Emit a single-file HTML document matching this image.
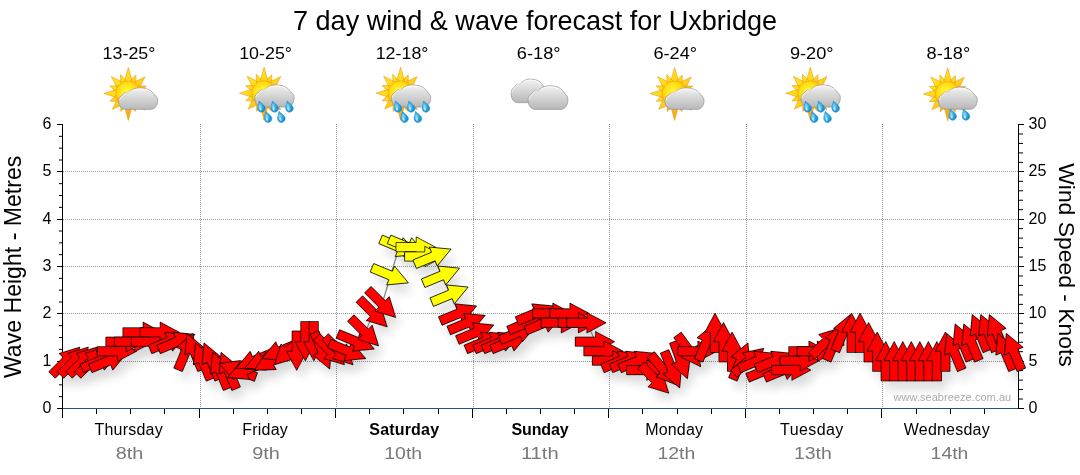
<!DOCTYPE html>
<html><head><meta charset="utf-8"><title>7 day wind &amp; wave forecast for Uxbridge</title>
<style>
html,body{margin:0;padding:0;background:#fff;}
body{width:1080px;height:475px;overflow:hidden;position:relative;font-family:"Liberation Sans",sans-serif;}
svg{position:absolute;left:0;top:0;display:block;}
text{font-family:"Liberation Sans",sans-serif;}
</style></head><body>
<svg width="1080" height="475" viewBox="0 0 1080 475">
<defs>
<path id="ar" d="M-20.2 -4.6 L0 -4.6 L0 -10.2 L19.2 0 L0 10.2 L0 4.6 L-20.2 4.6Z"/>
<linearGradient id="gc" x1="0" y1="0" x2="0" y2="1"><stop offset="0" stop-color="#f4f4f4"/><stop offset="0.3" stop-color="#e0e0e0"/><stop offset="1" stop-color="#b8b8b8"/></linearGradient>
<radialGradient id="gs" cx="0.42" cy="0.4" r="0.62"><stop offset="0" stop-color="#fff540"/><stop offset="0.55" stop-color="#ffde0c"/><stop offset="1" stop-color="#f8ac0a"/></radialGradient>
<linearGradient id="gr" gradientUnits="userSpaceOnUse" x1="-18" y1="-18" x2="18" y2="20"><stop offset="0" stop-color="#ffe61e"/><stop offset="0.45" stop-color="#ffd21a"/><stop offset="1" stop-color="#f4920e"/></linearGradient>
<radialGradient id="gd" cx="0.4" cy="0.45" r="0.6"><stop offset="0" stop-color="#8fdcf7"/><stop offset="0.6" stop-color="#2ba4e0"/><stop offset="1" stop-color="#1a86c8"/></radialGradient>
<g id="cloud"><path d="M7 22C3 22 0 18.5 0 13.5C0 10.5 1.6 8 4.2 7.2C5 5.2 7.6 4 10.2 4.9C12 2 16.5 0 21.5 0C27 0 32.5 1.4 35.6 5.6C36.4 6.2 36.8 6.8 37 7.6C39 8.6 40 10.6 40 12.8C40 18 37 22 33 22Z" fill="url(#gc)" stroke="#989898" stroke-width="0.8"/><path d="M0.9 13C1 10.8 2.4 8.6 4.6 7.7C5.6 5.6 7.8 4.3 10.7 4.7C13.2 2.3 17 0.9 21.5 0.9C26.3 0.9 31 1.9 34.4 5.2" fill="none" stroke="#fff" stroke-opacity="0.8" stroke-width="0.9"/></g>
<g id="sun"><path d="M-4.17 -11.46L0.00 -26.00L4.17 -11.46ZM1.38 -12.12L7.65 -18.48L7.59 -9.55ZM5.16 -11.06L16.62 -16.62L11.06 -5.16ZM9.55 -7.59L18.02 -7.46L12.12 -1.38ZM11.46 -4.17L24.00 0.00L11.46 4.17ZM12.12 1.38L18.48 7.65L9.55 7.59ZM11.06 5.16L16.62 16.62L5.16 11.06ZM7.59 9.55L7.46 18.02L1.38 12.12ZM4.17 11.46L0.00 27.00L-4.17 11.46ZM-1.38 12.12L-7.46 18.02L-7.59 9.55ZM-5.16 11.06L-15.91 15.91L-11.06 5.16ZM-9.55 7.59L-18.48 7.65L-12.12 1.38ZM-11.46 4.17L-24.50 0.00L-11.46 -4.17ZM-12.12 -1.38L-18.48 -7.65L-9.55 -7.59ZM-11.06 -5.16L-16.97 -16.97L-5.16 -11.06ZM-7.59 -9.55L-7.85 -18.94L-1.38 -12.12Z" fill="url(#gr)" stroke="#ee9a14" stroke-width="0.6" stroke-linejoin="round"/><circle r="12.4" fill="url(#gs)" stroke="#f2a814" stroke-width="0.6"/></g>
<g id="drop"><g transform="rotate(-18) scale(1.22)"><path d="M0 -4.8C1 -2.6 3.1 -0.6 3.1 1.6C3.1 3.5 1.6 4.6 0 4.6C-1.8 4.6 -3.1 3.3 -3.1 1.5C-3.1 -0.6 -1 -2.6 0 -4.8Z" fill="url(#gd)" stroke="#1c8fd0" stroke-width="0.4"/><ellipse cx="-1" cy="1.7" rx="0.9" ry="1.5" fill="#fff" fill-opacity="0.6"/></g></g>
<symbol id="ic_sc" width="64" height="64" viewBox="0 0 64 64" overflow="visible"><use href="#sun" x="30" y="31.5"/><use href="#cloud" transform="translate(20.4 26) scale(0.975 0.97)"/></symbol>
<symbol id="ic_sc5" width="64" height="64" viewBox="0 0 64 64" overflow="visible"><use href="#sun" x="29.2" y="31.2"/><use href="#cloud" transform="translate(20 23) scale(0.98 1)"/><use href="#drop" x="26" y="44.6"/><use href="#drop" x="39.2" y="44.6"/><use href="#drop" x="54" y="44.6"/><use href="#drop" x="32.6" y="54.9"/><use href="#drop" x="45.9" y="54.9"/></symbol>
<symbol id="ic_sc2" width="64" height="64" viewBox="0 0 64 64" overflow="visible"><use href="#sun" x="30" y="31.9"/><use href="#cloud" transform="translate(20.9 25.2) scale(0.965 1)"/><use href="#drop" x="34.4" y="52.6"/><use href="#drop" x="47.7" y="52.6"/></symbol>
<symbol id="ic_cc" width="64" height="64" viewBox="0 0 64 64" overflow="visible"><use href="#cloud" transform="translate(3.2 17.1) scale(0.885 1.07)"/><use href="#cloud" transform="translate(20.1 23.8) scale(0.995 1.07)"/></symbol>
<filter id="sh" x="-5%" y="-20%" width="110%" height="150%"><feGaussianBlur stdDeviation="5"/></filter>
<clipPath id="cp"><rect x="63" y="124" width="955" height="284"/></clipPath>
</defs>
<rect width="1080" height="475" fill="#fff"/>
<g stroke="#969696" stroke-width="1" stroke-dasharray="1 1" shape-rendering="crispEdges" fill="none">
<line x1="63" y1="361.5" x2="1018" y2="361.5"/>
<line x1="63" y1="313.5" x2="1018" y2="313.5"/>
<line x1="63" y1="266.5" x2="1018" y2="266.5"/>
<line x1="63" y1="219.5" x2="1018" y2="219.5"/>
<line x1="63" y1="171.5" x2="1018" y2="171.5"/>
<line x1="200.5" y1="124" x2="200.5" y2="408"/>
<line x1="336.5" y1="124" x2="336.5" y2="408"/>
<line x1="473.5" y1="124" x2="473.5" y2="408"/>
<line x1="609.5" y1="124" x2="609.5" y2="408"/>
<line x1="746.5" y1="124" x2="746.5" y2="408"/>
<line x1="882.5" y1="124" x2="882.5" y2="408"/>
</g>
<g shape-rendering="crispEdges" stroke="#000" stroke-width="1" fill="none">
<line x1="62.5" y1="124" x2="62.5" y2="418"/>
<line x1="1018.5" y1="124" x2="1018.5" y2="409"/>
<line x1="63" y1="408.5" x2="1018" y2="408.5" stroke="#1f5288"/>
<line x1="57" y1="408.5" x2="62" y2="408.5"/>
<line x1="57" y1="361.5" x2="62" y2="361.5"/>
<line x1="57" y1="313.5" x2="62" y2="313.5"/>
<line x1="57" y1="266.5" x2="62" y2="266.5"/>
<line x1="57" y1="219.5" x2="62" y2="219.5"/>
<line x1="57" y1="171.5" x2="62" y2="171.5"/>
<line x1="57" y1="124.5" x2="62" y2="124.5"/>
<line x1="1019" y1="408.5" x2="1024" y2="408.5"/>
<line x1="1019" y1="361.5" x2="1024" y2="361.5"/>
<line x1="1019" y1="313.5" x2="1024" y2="313.5"/>
<line x1="1019" y1="266.5" x2="1024" y2="266.5"/>
<line x1="1019" y1="219.5" x2="1024" y2="219.5"/>
<line x1="1019" y1="171.5" x2="1024" y2="171.5"/>
<line x1="1019" y1="124.5" x2="1024" y2="124.5"/>
<line x1="199.5" y1="409" x2="199.5" y2="418"/>
<line x1="335.5" y1="409" x2="335.5" y2="418"/>
<line x1="472.5" y1="409" x2="472.5" y2="418"/>
<line x1="608.5" y1="409" x2="608.5" y2="418"/>
<line x1="745.5" y1="409" x2="745.5" y2="418"/>
<line x1="881.5" y1="409" x2="881.5" y2="418"/>
</g>
<g stroke="#000" stroke-width="1" fill="none">
<line x1="59" y1="396.67" x2="62" y2="396.67"/>
<line x1="59" y1="384.83" x2="62" y2="384.83"/>
<line x1="59" y1="373.00" x2="62" y2="373.00"/>
<line x1="59" y1="349.33" x2="62" y2="349.33"/>
<line x1="59" y1="337.50" x2="62" y2="337.50"/>
<line x1="59" y1="325.67" x2="62" y2="325.67"/>
<line x1="59" y1="302.00" x2="62" y2="302.00"/>
<line x1="59" y1="290.17" x2="62" y2="290.17"/>
<line x1="59" y1="278.33" x2="62" y2="278.33"/>
<line x1="59" y1="254.67" x2="62" y2="254.67"/>
<line x1="59" y1="242.83" x2="62" y2="242.83"/>
<line x1="59" y1="231.00" x2="62" y2="231.00"/>
<line x1="59" y1="207.33" x2="62" y2="207.33"/>
<line x1="59" y1="195.50" x2="62" y2="195.50"/>
<line x1="59" y1="183.67" x2="62" y2="183.67"/>
<line x1="59" y1="160.00" x2="62" y2="160.00"/>
<line x1="59" y1="148.17" x2="62" y2="148.17"/>
<line x1="59" y1="136.33" x2="62" y2="136.33"/>
<line x1="1019" y1="399.03" x2="1023" y2="399.03"/>
<line x1="1019" y1="389.57" x2="1023" y2="389.57"/>
<line x1="1019" y1="380.10" x2="1023" y2="380.10"/>
<line x1="1019" y1="370.63" x2="1023" y2="370.63"/>
<line x1="1019" y1="351.70" x2="1023" y2="351.70"/>
<line x1="1019" y1="342.23" x2="1023" y2="342.23"/>
<line x1="1019" y1="332.77" x2="1023" y2="332.77"/>
<line x1="1019" y1="323.30" x2="1023" y2="323.30"/>
<line x1="1019" y1="304.37" x2="1023" y2="304.37"/>
<line x1="1019" y1="294.90" x2="1023" y2="294.90"/>
<line x1="1019" y1="285.43" x2="1023" y2="285.43"/>
<line x1="1019" y1="275.97" x2="1023" y2="275.97"/>
<line x1="1019" y1="257.03" x2="1023" y2="257.03"/>
<line x1="1019" y1="247.57" x2="1023" y2="247.57"/>
<line x1="1019" y1="238.10" x2="1023" y2="238.10"/>
<line x1="1019" y1="228.63" x2="1023" y2="228.63"/>
<line x1="1019" y1="209.70" x2="1023" y2="209.70"/>
<line x1="1019" y1="200.23" x2="1023" y2="200.23"/>
<line x1="1019" y1="190.77" x2="1023" y2="190.77"/>
<line x1="1019" y1="181.30" x2="1023" y2="181.30"/>
<line x1="1019" y1="162.37" x2="1023" y2="162.37"/>
<line x1="1019" y1="152.90" x2="1023" y2="152.90"/>
<line x1="1019" y1="143.43" x2="1023" y2="143.43"/>
<line x1="1019" y1="133.97" x2="1023" y2="133.97"/>
<line x1="96.50" y1="409" x2="96.50" y2="414" shape-rendering="crispEdges"/>
<line x1="130.50" y1="409" x2="130.50" y2="414" shape-rendering="crispEdges"/>
<line x1="164.50" y1="409" x2="164.50" y2="414" shape-rendering="crispEdges"/>
<line x1="233.50" y1="409" x2="233.50" y2="414" shape-rendering="crispEdges"/>
<line x1="267.50" y1="409" x2="267.50" y2="414" shape-rendering="crispEdges"/>
<line x1="301.50" y1="409" x2="301.50" y2="414" shape-rendering="crispEdges"/>
<line x1="369.50" y1="409" x2="369.50" y2="414" shape-rendering="crispEdges"/>
<line x1="403.50" y1="409" x2="403.50" y2="414" shape-rendering="crispEdges"/>
<line x1="438.50" y1="409" x2="438.50" y2="414" shape-rendering="crispEdges"/>
<line x1="506.50" y1="409" x2="506.50" y2="414" shape-rendering="crispEdges"/>
<line x1="540.50" y1="409" x2="540.50" y2="414" shape-rendering="crispEdges"/>
<line x1="574.50" y1="409" x2="574.50" y2="414" shape-rendering="crispEdges"/>
<line x1="642.50" y1="409" x2="642.50" y2="414" shape-rendering="crispEdges"/>
<line x1="677.50" y1="409" x2="677.50" y2="414" shape-rendering="crispEdges"/>
<line x1="711.50" y1="409" x2="711.50" y2="414" shape-rendering="crispEdges"/>
<line x1="779.50" y1="409" x2="779.50" y2="414" shape-rendering="crispEdges"/>
<line x1="813.50" y1="409" x2="813.50" y2="414" shape-rendering="crispEdges"/>
<line x1="847.50" y1="409" x2="847.50" y2="414" shape-rendering="crispEdges"/>
<line x1="916.50" y1="409" x2="916.50" y2="414" shape-rendering="crispEdges"/>
<line x1="950.50" y1="409" x2="950.50" y2="414" shape-rendering="crispEdges"/>
<line x1="984.50" y1="409" x2="984.50" y2="414" shape-rendering="crispEdges"/>
</g>
<g clip-path="url(#cp)"><g filter="url(#sh)" opacity="0.1" transform="translate(5,9)" fill="#000">
<use href="#ar" transform="translate(66.3 360.7) rotate(-45)"/>
<use href="#ar" transform="translate(74.8 360.7) rotate(-45)"/>
<use href="#ar" transform="translate(83.3 360.7) rotate(-45)"/>
<use href="#ar" transform="translate(91.9 360.7) rotate(-45)"/>
<use href="#ar" transform="translate(100.4 360.7) rotate(-22.5)"/>
<use href="#ar" transform="translate(108.9 360.7) rotate(-22.5)"/>
<use href="#ar" transform="translate(117.5 351.2) rotate(0)"/>
<use href="#ar" transform="translate(126.0 341.7) rotate(0)"/>
<use href="#ar" transform="translate(134.6 341.7) rotate(0)"/>
<use href="#ar" transform="translate(143.1 332.3) rotate(0)"/>
<use href="#ar" transform="translate(151.6 341.7) rotate(0)"/>
<use href="#ar" transform="translate(160.2 332.3) rotate(0)"/>
<use href="#ar" transform="translate(168.7 341.7) rotate(-22.5)"/>
<use href="#ar" transform="translate(177.2 341.7) rotate(-22.5)"/>
<use href="#ar" transform="translate(185.8 351.2) rotate(-67.5)"/>
<use href="#ar" transform="translate(194.3 351.2) rotate(-112.5)"/>
<use href="#ar" transform="translate(202.8 360.7) rotate(-112.5)"/>
<use href="#ar" transform="translate(211.4 360.7) rotate(-112.5)"/>
<use href="#ar" transform="translate(219.9 370.1) rotate(-112.5)"/>
<use href="#ar" transform="translate(228.4 370.1) rotate(-112.5)"/>
<use href="#ar" transform="translate(237.0 370.1) rotate(-160)"/>
<use href="#ar" transform="translate(245.5 370.1) rotate(-202.5)"/>
<use href="#ar" transform="translate(254.1 360.7) rotate(-202.5)"/>
<use href="#ar" transform="translate(262.6 360.7) rotate(-202.5)"/>
<use href="#ar" transform="translate(271.1 360.7) rotate(-210)"/>
<use href="#ar" transform="translate(279.7 351.2) rotate(-202.5)"/>
<use href="#ar" transform="translate(288.2 351.2) rotate(-225)"/>
<use href="#ar" transform="translate(296.7 351.2) rotate(90)"/>
<use href="#ar" transform="translate(305.3 341.7) rotate(90)"/>
<use href="#ar" transform="translate(313.8 341.7) rotate(90)"/>
<use href="#ar" transform="translate(322.3 351.2) rotate(67.5)"/>
<use href="#ar" transform="translate(330.9 351.2) rotate(45)"/>
<use href="#ar" transform="translate(339.4 351.2) rotate(45)"/>
<use href="#ar" transform="translate(347.9 351.2) rotate(22.5)"/>
<use href="#ar" transform="translate(356.5 341.7) rotate(22.5)"/>
<use href="#ar" transform="translate(365.0 332.3) rotate(45)"/>
<use href="#ar" transform="translate(373.6 313.3) rotate(45)"/>
<use href="#ar" transform="translate(382.1 303.9) rotate(45)"/>
<use href="#ar" transform="translate(390.6 275.5) rotate(22.5)"/>
<use href="#ar" transform="translate(399.2 247.1) rotate(22.5)"/>
<use href="#ar" transform="translate(407.7 247.1) rotate(22.5)"/>
<use href="#ar" transform="translate(416.2 247.1) rotate(0)"/>
<use href="#ar" transform="translate(424.8 256.5) rotate(0)"/>
<use href="#ar" transform="translate(433.3 256.5) rotate(-22.5)"/>
<use href="#ar" transform="translate(441.8 275.5) rotate(-22.5)"/>
<use href="#ar" transform="translate(450.4 294.4) rotate(-22.5)"/>
<use href="#ar" transform="translate(458.9 313.3) rotate(-22.5)"/>
<use href="#ar" transform="translate(467.4 322.8) rotate(-22.5)"/>
<use href="#ar" transform="translate(476.0 332.3) rotate(-22.5)"/>
<use href="#ar" transform="translate(484.5 341.7) rotate(-22.5)"/>
<use href="#ar" transform="translate(493.1 341.7) rotate(-22.5)"/>
<use href="#ar" transform="translate(501.6 341.7) rotate(-22.5)"/>
<use href="#ar" transform="translate(510.1 341.7) rotate(-22.5)"/>
<use href="#ar" transform="translate(518.7 332.3) rotate(-22.5)"/>
<use href="#ar" transform="translate(527.2 322.8) rotate(-22.5)"/>
<use href="#ar" transform="translate(535.7 313.3) rotate(-22.5)"/>
<use href="#ar" transform="translate(544.3 322.8) rotate(-22.5)"/>
<use href="#ar" transform="translate(552.8 313.3) rotate(0)"/>
<use href="#ar" transform="translate(561.3 322.8) rotate(0)"/>
<use href="#ar" transform="translate(569.9 313.3) rotate(0)"/>
<use href="#ar" transform="translate(578.4 322.8) rotate(0)"/>
<use href="#ar" transform="translate(586.9 322.8) rotate(0)"/>
<use href="#ar" transform="translate(595.5 341.7) rotate(0)"/>
<use href="#ar" transform="translate(604.0 351.2) rotate(0)"/>
<use href="#ar" transform="translate(612.6 360.7) rotate(0)"/>
<use href="#ar" transform="translate(621.1 360.7) rotate(-22.5)"/>
<use href="#ar" transform="translate(629.6 360.7) rotate(-22.5)"/>
<use href="#ar" transform="translate(638.2 360.7) rotate(-22.5)"/>
<use href="#ar" transform="translate(646.7 370.1) rotate(0)"/>
<use href="#ar" transform="translate(655.2 379.6) rotate(45)"/>
<use href="#ar" transform="translate(663.8 370.1) rotate(50)"/>
<use href="#ar" transform="translate(672.3 370.1) rotate(67.5)"/>
<use href="#ar" transform="translate(680.8 360.7) rotate(70)"/>
<use href="#ar" transform="translate(689.4 351.2) rotate(54)"/>
<use href="#ar" transform="translate(697.9 351.2) rotate(0)"/>
<use href="#ar" transform="translate(706.4 341.7) rotate(-67.5)"/>
<use href="#ar" transform="translate(715.0 332.3) rotate(-90)"/>
<use href="#ar" transform="translate(723.5 341.7) rotate(-90)"/>
<use href="#ar" transform="translate(732.1 351.2) rotate(-90)"/>
<use href="#ar" transform="translate(740.6 360.7) rotate(-67.5)"/>
<use href="#ar" transform="translate(749.1 360.7) rotate(-40)"/>
<use href="#ar" transform="translate(757.7 360.7) rotate(-22.5)"/>
<use href="#ar" transform="translate(766.2 370.1) rotate(-22.5)"/>
<use href="#ar" transform="translate(774.7 360.7) rotate(-22.5)"/>
<use href="#ar" transform="translate(783.3 370.1) rotate(-22.5)"/>
<use href="#ar" transform="translate(791.8 370.1) rotate(0)"/>
<use href="#ar" transform="translate(800.3 360.7) rotate(0)"/>
<use href="#ar" transform="translate(808.9 351.2) rotate(0)"/>
<use href="#ar" transform="translate(817.4 351.2) rotate(0)"/>
<use href="#ar" transform="translate(825.9 341.7) rotate(-45)"/>
<use href="#ar" transform="translate(834.5 341.7) rotate(-67.5)"/>
<use href="#ar" transform="translate(843.0 332.3) rotate(-67.5)"/>
<use href="#ar" transform="translate(851.6 332.3) rotate(-90)"/>
<use href="#ar" transform="translate(860.1 332.3) rotate(-90)"/>
<use href="#ar" transform="translate(868.6 341.7) rotate(-90)"/>
<use href="#ar" transform="translate(877.2 351.2) rotate(-90)"/>
<use href="#ar" transform="translate(885.7 360.7) rotate(-90)"/>
<use href="#ar" transform="translate(894.2 360.7) rotate(-90)"/>
<use href="#ar" transform="translate(902.8 360.7) rotate(-90)"/>
<use href="#ar" transform="translate(911.3 360.7) rotate(-90)"/>
<use href="#ar" transform="translate(919.8 360.7) rotate(-90)"/>
<use href="#ar" transform="translate(928.4 360.7) rotate(-90)"/>
<use href="#ar" transform="translate(936.9 360.7) rotate(-90)"/>
<use href="#ar" transform="translate(945.4 351.2) rotate(-90)"/>
<use href="#ar" transform="translate(954.0 351.2) rotate(-112.5)"/>
<use href="#ar" transform="translate(962.5 341.7) rotate(-112.5)"/>
<use href="#ar" transform="translate(971.1 341.7) rotate(-112.5)"/>
<use href="#ar" transform="translate(979.6 332.3) rotate(-112.5)"/>
<use href="#ar" transform="translate(988.1 332.3) rotate(-112.5)"/>
<use href="#ar" transform="translate(996.7 332.3) rotate(-112.5)"/>
<use href="#ar" transform="translate(1005.2 351.2) rotate(-112.5)"/>
<use href="#ar" transform="translate(1013.7 351.2) rotate(-112.5)"/>
</g><g filter="url(#sh)" transform="translate(5,9)" fill="#000" fill-opacity="0.028">
<use href="#ar" transform="translate(66.3 360.7) rotate(-45)"/>
<use href="#ar" transform="translate(74.8 360.7) rotate(-45)"/>
<use href="#ar" transform="translate(83.3 360.7) rotate(-45)"/>
<use href="#ar" transform="translate(91.9 360.7) rotate(-45)"/>
<use href="#ar" transform="translate(100.4 360.7) rotate(-22.5)"/>
<use href="#ar" transform="translate(108.9 360.7) rotate(-22.5)"/>
<use href="#ar" transform="translate(117.5 351.2) rotate(0)"/>
<use href="#ar" transform="translate(126.0 341.7) rotate(0)"/>
<use href="#ar" transform="translate(134.6 341.7) rotate(0)"/>
<use href="#ar" transform="translate(143.1 332.3) rotate(0)"/>
<use href="#ar" transform="translate(151.6 341.7) rotate(0)"/>
<use href="#ar" transform="translate(160.2 332.3) rotate(0)"/>
<use href="#ar" transform="translate(168.7 341.7) rotate(-22.5)"/>
<use href="#ar" transform="translate(177.2 341.7) rotate(-22.5)"/>
<use href="#ar" transform="translate(185.8 351.2) rotate(-67.5)"/>
<use href="#ar" transform="translate(194.3 351.2) rotate(-112.5)"/>
<use href="#ar" transform="translate(202.8 360.7) rotate(-112.5)"/>
<use href="#ar" transform="translate(211.4 360.7) rotate(-112.5)"/>
<use href="#ar" transform="translate(219.9 370.1) rotate(-112.5)"/>
<use href="#ar" transform="translate(228.4 370.1) rotate(-112.5)"/>
<use href="#ar" transform="translate(237.0 370.1) rotate(-160)"/>
<use href="#ar" transform="translate(245.5 370.1) rotate(-202.5)"/>
<use href="#ar" transform="translate(254.1 360.7) rotate(-202.5)"/>
<use href="#ar" transform="translate(262.6 360.7) rotate(-202.5)"/>
<use href="#ar" transform="translate(271.1 360.7) rotate(-210)"/>
<use href="#ar" transform="translate(279.7 351.2) rotate(-202.5)"/>
<use href="#ar" transform="translate(288.2 351.2) rotate(-225)"/>
<use href="#ar" transform="translate(296.7 351.2) rotate(90)"/>
<use href="#ar" transform="translate(305.3 341.7) rotate(90)"/>
<use href="#ar" transform="translate(313.8 341.7) rotate(90)"/>
<use href="#ar" transform="translate(322.3 351.2) rotate(67.5)"/>
<use href="#ar" transform="translate(330.9 351.2) rotate(45)"/>
<use href="#ar" transform="translate(339.4 351.2) rotate(45)"/>
<use href="#ar" transform="translate(347.9 351.2) rotate(22.5)"/>
<use href="#ar" transform="translate(356.5 341.7) rotate(22.5)"/>
<use href="#ar" transform="translate(365.0 332.3) rotate(45)"/>
<use href="#ar" transform="translate(373.6 313.3) rotate(45)"/>
<use href="#ar" transform="translate(382.1 303.9) rotate(45)"/>
<use href="#ar" transform="translate(390.6 275.5) rotate(22.5)"/>
<use href="#ar" transform="translate(399.2 247.1) rotate(22.5)"/>
<use href="#ar" transform="translate(407.7 247.1) rotate(22.5)"/>
<use href="#ar" transform="translate(416.2 247.1) rotate(0)"/>
<use href="#ar" transform="translate(424.8 256.5) rotate(0)"/>
<use href="#ar" transform="translate(433.3 256.5) rotate(-22.5)"/>
<use href="#ar" transform="translate(441.8 275.5) rotate(-22.5)"/>
<use href="#ar" transform="translate(450.4 294.4) rotate(-22.5)"/>
<use href="#ar" transform="translate(458.9 313.3) rotate(-22.5)"/>
<use href="#ar" transform="translate(467.4 322.8) rotate(-22.5)"/>
<use href="#ar" transform="translate(476.0 332.3) rotate(-22.5)"/>
<use href="#ar" transform="translate(484.5 341.7) rotate(-22.5)"/>
<use href="#ar" transform="translate(493.1 341.7) rotate(-22.5)"/>
<use href="#ar" transform="translate(501.6 341.7) rotate(-22.5)"/>
<use href="#ar" transform="translate(510.1 341.7) rotate(-22.5)"/>
<use href="#ar" transform="translate(518.7 332.3) rotate(-22.5)"/>
<use href="#ar" transform="translate(527.2 322.8) rotate(-22.5)"/>
<use href="#ar" transform="translate(535.7 313.3) rotate(-22.5)"/>
<use href="#ar" transform="translate(544.3 322.8) rotate(-22.5)"/>
<use href="#ar" transform="translate(552.8 313.3) rotate(0)"/>
<use href="#ar" transform="translate(561.3 322.8) rotate(0)"/>
<use href="#ar" transform="translate(569.9 313.3) rotate(0)"/>
<use href="#ar" transform="translate(578.4 322.8) rotate(0)"/>
<use href="#ar" transform="translate(586.9 322.8) rotate(0)"/>
<use href="#ar" transform="translate(595.5 341.7) rotate(0)"/>
<use href="#ar" transform="translate(604.0 351.2) rotate(0)"/>
<use href="#ar" transform="translate(612.6 360.7) rotate(0)"/>
<use href="#ar" transform="translate(621.1 360.7) rotate(-22.5)"/>
<use href="#ar" transform="translate(629.6 360.7) rotate(-22.5)"/>
<use href="#ar" transform="translate(638.2 360.7) rotate(-22.5)"/>
<use href="#ar" transform="translate(646.7 370.1) rotate(0)"/>
<use href="#ar" transform="translate(655.2 379.6) rotate(45)"/>
<use href="#ar" transform="translate(663.8 370.1) rotate(50)"/>
<use href="#ar" transform="translate(672.3 370.1) rotate(67.5)"/>
<use href="#ar" transform="translate(680.8 360.7) rotate(70)"/>
<use href="#ar" transform="translate(689.4 351.2) rotate(54)"/>
<use href="#ar" transform="translate(697.9 351.2) rotate(0)"/>
<use href="#ar" transform="translate(706.4 341.7) rotate(-67.5)"/>
<use href="#ar" transform="translate(715.0 332.3) rotate(-90)"/>
<use href="#ar" transform="translate(723.5 341.7) rotate(-90)"/>
<use href="#ar" transform="translate(732.1 351.2) rotate(-90)"/>
<use href="#ar" transform="translate(740.6 360.7) rotate(-67.5)"/>
<use href="#ar" transform="translate(749.1 360.7) rotate(-40)"/>
<use href="#ar" transform="translate(757.7 360.7) rotate(-22.5)"/>
<use href="#ar" transform="translate(766.2 370.1) rotate(-22.5)"/>
<use href="#ar" transform="translate(774.7 360.7) rotate(-22.5)"/>
<use href="#ar" transform="translate(783.3 370.1) rotate(-22.5)"/>
<use href="#ar" transform="translate(791.8 370.1) rotate(0)"/>
<use href="#ar" transform="translate(800.3 360.7) rotate(0)"/>
<use href="#ar" transform="translate(808.9 351.2) rotate(0)"/>
<use href="#ar" transform="translate(817.4 351.2) rotate(0)"/>
<use href="#ar" transform="translate(825.9 341.7) rotate(-45)"/>
<use href="#ar" transform="translate(834.5 341.7) rotate(-67.5)"/>
<use href="#ar" transform="translate(843.0 332.3) rotate(-67.5)"/>
<use href="#ar" transform="translate(851.6 332.3) rotate(-90)"/>
<use href="#ar" transform="translate(860.1 332.3) rotate(-90)"/>
<use href="#ar" transform="translate(868.6 341.7) rotate(-90)"/>
<use href="#ar" transform="translate(877.2 351.2) rotate(-90)"/>
<use href="#ar" transform="translate(885.7 360.7) rotate(-90)"/>
<use href="#ar" transform="translate(894.2 360.7) rotate(-90)"/>
<use href="#ar" transform="translate(902.8 360.7) rotate(-90)"/>
<use href="#ar" transform="translate(911.3 360.7) rotate(-90)"/>
<use href="#ar" transform="translate(919.8 360.7) rotate(-90)"/>
<use href="#ar" transform="translate(928.4 360.7) rotate(-90)"/>
<use href="#ar" transform="translate(936.9 360.7) rotate(-90)"/>
<use href="#ar" transform="translate(945.4 351.2) rotate(-90)"/>
<use href="#ar" transform="translate(954.0 351.2) rotate(-112.5)"/>
<use href="#ar" transform="translate(962.5 341.7) rotate(-112.5)"/>
<use href="#ar" transform="translate(971.1 341.7) rotate(-112.5)"/>
<use href="#ar" transform="translate(979.6 332.3) rotate(-112.5)"/>
<use href="#ar" transform="translate(988.1 332.3) rotate(-112.5)"/>
<use href="#ar" transform="translate(996.7 332.3) rotate(-112.5)"/>
<use href="#ar" transform="translate(1005.2 351.2) rotate(-112.5)"/>
<use href="#ar" transform="translate(1013.7 351.2) rotate(-112.5)"/>
</g></g>
<polyline fill="none" stroke="#808080" stroke-width="1.2" points="66.3,360.7 74.8,360.7 83.3,360.7 91.9,360.7 100.4,360.7 108.9,360.7 117.5,351.2 126.0,341.7 134.6,341.7 143.1,332.3 151.6,341.7 160.2,332.3 168.7,341.7 177.2,341.7 185.8,351.2 194.3,351.2 202.8,360.7 211.4,360.7 219.9,370.1 228.4,370.1 237.0,370.1 245.5,370.1 254.1,360.7 262.6,360.7 271.1,360.7 279.7,351.2 288.2,351.2 296.7,351.2 305.3,341.7 313.8,341.7 322.3,351.2 330.9,351.2 339.4,351.2 347.9,351.2 356.5,341.7 365.0,332.3 373.6,313.3 382.1,303.9 390.6,275.5 399.2,247.1 407.7,247.1 416.2,247.1 424.8,256.5 433.3,256.5 441.8,275.5 450.4,294.4 458.9,313.3 467.4,322.8 476.0,332.3 484.5,341.7 493.1,341.7 501.6,341.7 510.1,341.7 518.7,332.3 527.2,322.8 535.7,313.3 544.3,322.8 552.8,313.3 561.3,322.8 569.9,313.3 578.4,322.8 586.9,322.8 595.5,341.7 604.0,351.2 612.6,360.7 621.1,360.7 629.6,360.7 638.2,360.7 646.7,370.1 655.2,379.6 663.8,370.1 672.3,370.1 680.8,360.7 689.4,351.2 697.9,351.2 706.4,341.7 715.0,332.3 723.5,341.7 732.1,351.2 740.6,360.7 749.1,360.7 757.7,360.7 766.2,370.1 774.7,360.7 783.3,370.1 791.8,370.1 800.3,360.7 808.9,351.2 817.4,351.2 825.9,341.7 834.5,341.7 843.0,332.3 851.6,332.3 860.1,332.3 868.6,341.7 877.2,351.2 885.7,360.7 894.2,360.7 902.8,360.7 911.3,360.7 919.8,360.7 928.4,360.7 936.9,360.7 945.4,351.2 954.0,351.2 962.5,341.7 971.1,341.7 979.6,332.3 988.1,332.3 996.7,332.3 1005.2,351.2 1013.7,351.2"/>
<g stroke="#000" stroke-width="0.75" stroke-linejoin="miter">
<use href="#ar" fill="#ff0000" stroke="none" shape-rendering="crispEdges" transform="translate(66.3 360.7) rotate(-45)"/>
<use href="#ar" fill="none" transform="translate(66.3 360.7) rotate(-45)"/>
<use href="#ar" fill="#ff0000" stroke="none" shape-rendering="crispEdges" transform="translate(74.8 360.7) rotate(-45)"/>
<use href="#ar" fill="none" transform="translate(74.8 360.7) rotate(-45)"/>
<use href="#ar" fill="#ff0000" stroke="none" shape-rendering="crispEdges" transform="translate(83.3 360.7) rotate(-45)"/>
<use href="#ar" fill="none" transform="translate(83.3 360.7) rotate(-45)"/>
<use href="#ar" fill="#ff0000" stroke="none" shape-rendering="crispEdges" transform="translate(91.9 360.7) rotate(-45)"/>
<use href="#ar" fill="none" transform="translate(91.9 360.7) rotate(-45)"/>
<use href="#ar" fill="#ff0000" stroke="none" shape-rendering="crispEdges" transform="translate(100.4 360.7) rotate(-22.5)"/>
<use href="#ar" fill="none" transform="translate(100.4 360.7) rotate(-22.5)"/>
<use href="#ar" fill="#ff0000" stroke="none" shape-rendering="crispEdges" transform="translate(108.9 360.7) rotate(-22.5)"/>
<use href="#ar" fill="none" transform="translate(108.9 360.7) rotate(-22.5)"/>
<use href="#ar" fill="#ff0000" stroke="none" shape-rendering="crispEdges" transform="translate(117.5 351.2) rotate(0)"/>
<use href="#ar" fill="none" transform="translate(117.5 351.2) rotate(0)"/>
<use href="#ar" fill="#ff0000" stroke="none" shape-rendering="crispEdges" transform="translate(126.0 341.7) rotate(0)"/>
<use href="#ar" fill="none" transform="translate(126.0 341.7) rotate(0)"/>
<use href="#ar" fill="#ff0000" stroke="none" shape-rendering="crispEdges" transform="translate(134.6 341.7) rotate(0)"/>
<use href="#ar" fill="none" transform="translate(134.6 341.7) rotate(0)"/>
<use href="#ar" fill="#ff0000" stroke="none" shape-rendering="crispEdges" transform="translate(143.1 332.3) rotate(0)"/>
<use href="#ar" fill="none" transform="translate(143.1 332.3) rotate(0)"/>
<use href="#ar" fill="#ff0000" stroke="none" shape-rendering="crispEdges" transform="translate(151.6 341.7) rotate(0)"/>
<use href="#ar" fill="none" transform="translate(151.6 341.7) rotate(0)"/>
<use href="#ar" fill="#ff0000" stroke="none" shape-rendering="crispEdges" transform="translate(160.2 332.3) rotate(0)"/>
<use href="#ar" fill="none" transform="translate(160.2 332.3) rotate(0)"/>
<use href="#ar" fill="#ff0000" stroke="none" shape-rendering="crispEdges" transform="translate(168.7 341.7) rotate(-22.5)"/>
<use href="#ar" fill="none" transform="translate(168.7 341.7) rotate(-22.5)"/>
<use href="#ar" fill="#ff0000" stroke="none" shape-rendering="crispEdges" transform="translate(177.2 341.7) rotate(-22.5)"/>
<use href="#ar" fill="none" transform="translate(177.2 341.7) rotate(-22.5)"/>
<use href="#ar" fill="#ff0000" stroke="none" shape-rendering="crispEdges" transform="translate(185.8 351.2) rotate(-67.5)"/>
<use href="#ar" fill="none" transform="translate(185.8 351.2) rotate(-67.5)"/>
<use href="#ar" fill="#ff0000" stroke="none" shape-rendering="crispEdges" transform="translate(194.3 351.2) rotate(-112.5)"/>
<use href="#ar" fill="none" transform="translate(194.3 351.2) rotate(-112.5)"/>
<use href="#ar" fill="#ff0000" stroke="none" shape-rendering="crispEdges" transform="translate(202.8 360.7) rotate(-112.5)"/>
<use href="#ar" fill="none" transform="translate(202.8 360.7) rotate(-112.5)"/>
<use href="#ar" fill="#ff0000" stroke="none" shape-rendering="crispEdges" transform="translate(211.4 360.7) rotate(-112.5)"/>
<use href="#ar" fill="none" transform="translate(211.4 360.7) rotate(-112.5)"/>
<use href="#ar" fill="#ff0000" stroke="none" shape-rendering="crispEdges" transform="translate(219.9 370.1) rotate(-112.5)"/>
<use href="#ar" fill="none" transform="translate(219.9 370.1) rotate(-112.5)"/>
<use href="#ar" fill="#ff0000" stroke="none" shape-rendering="crispEdges" transform="translate(228.4 370.1) rotate(-112.5)"/>
<use href="#ar" fill="none" transform="translate(228.4 370.1) rotate(-112.5)"/>
<use href="#ar" fill="#ff0000" stroke="none" shape-rendering="crispEdges" transform="translate(237.0 370.1) rotate(-160)"/>
<use href="#ar" fill="none" transform="translate(237.0 370.1) rotate(-160)"/>
<use href="#ar" fill="#ff0000" stroke="none" shape-rendering="crispEdges" transform="translate(245.5 370.1) rotate(-202.5)"/>
<use href="#ar" fill="none" transform="translate(245.5 370.1) rotate(-202.5)"/>
<use href="#ar" fill="#ff0000" stroke="none" shape-rendering="crispEdges" transform="translate(254.1 360.7) rotate(-202.5)"/>
<use href="#ar" fill="none" transform="translate(254.1 360.7) rotate(-202.5)"/>
<use href="#ar" fill="#ff0000" stroke="none" shape-rendering="crispEdges" transform="translate(262.6 360.7) rotate(-202.5)"/>
<use href="#ar" fill="none" transform="translate(262.6 360.7) rotate(-202.5)"/>
<use href="#ar" fill="#ff0000" stroke="none" shape-rendering="crispEdges" transform="translate(271.1 360.7) rotate(-210)"/>
<use href="#ar" fill="none" transform="translate(271.1 360.7) rotate(-210)"/>
<use href="#ar" fill="#ff0000" stroke="none" shape-rendering="crispEdges" transform="translate(279.7 351.2) rotate(-202.5)"/>
<use href="#ar" fill="none" transform="translate(279.7 351.2) rotate(-202.5)"/>
<use href="#ar" fill="#ff0000" stroke="none" shape-rendering="crispEdges" transform="translate(288.2 351.2) rotate(-225)"/>
<use href="#ar" fill="none" transform="translate(288.2 351.2) rotate(-225)"/>
<use href="#ar" fill="#ff0000" stroke="none" shape-rendering="crispEdges" transform="translate(296.7 351.2) rotate(90)"/>
<use href="#ar" fill="none" transform="translate(296.7 351.2) rotate(90)"/>
<use href="#ar" fill="#ff0000" stroke="none" shape-rendering="crispEdges" transform="translate(305.3 341.7) rotate(90)"/>
<use href="#ar" fill="none" transform="translate(305.3 341.7) rotate(90)"/>
<use href="#ar" fill="#ff0000" stroke="none" shape-rendering="crispEdges" transform="translate(313.8 341.7) rotate(90)"/>
<use href="#ar" fill="none" transform="translate(313.8 341.7) rotate(90)"/>
<use href="#ar" fill="#ff0000" stroke="none" shape-rendering="crispEdges" transform="translate(322.3 351.2) rotate(67.5)"/>
<use href="#ar" fill="none" transform="translate(322.3 351.2) rotate(67.5)"/>
<use href="#ar" fill="#ff0000" stroke="none" shape-rendering="crispEdges" transform="translate(330.9 351.2) rotate(45)"/>
<use href="#ar" fill="none" transform="translate(330.9 351.2) rotate(45)"/>
<use href="#ar" fill="#ff0000" stroke="none" shape-rendering="crispEdges" transform="translate(339.4 351.2) rotate(45)"/>
<use href="#ar" fill="none" transform="translate(339.4 351.2) rotate(45)"/>
<use href="#ar" fill="#ff0000" stroke="none" shape-rendering="crispEdges" transform="translate(347.9 351.2) rotate(22.5)"/>
<use href="#ar" fill="none" transform="translate(347.9 351.2) rotate(22.5)"/>
<use href="#ar" fill="#ff0000" stroke="none" shape-rendering="crispEdges" transform="translate(356.5 341.7) rotate(22.5)"/>
<use href="#ar" fill="none" transform="translate(356.5 341.7) rotate(22.5)"/>
<use href="#ar" fill="#ff0000" stroke="none" shape-rendering="crispEdges" transform="translate(365.0 332.3) rotate(45)"/>
<use href="#ar" fill="none" transform="translate(365.0 332.3) rotate(45)"/>
<use href="#ar" fill="#ff0000" stroke="none" shape-rendering="crispEdges" transform="translate(373.6 313.3) rotate(45)"/>
<use href="#ar" fill="none" transform="translate(373.6 313.3) rotate(45)"/>
<use href="#ar" fill="#ff0000" stroke="none" shape-rendering="crispEdges" transform="translate(382.1 303.9) rotate(45)"/>
<use href="#ar" fill="none" transform="translate(382.1 303.9) rotate(45)"/>
<use href="#ar" fill="#ffff00" stroke="none" shape-rendering="crispEdges" transform="translate(390.6 275.5) rotate(22.5)"/>
<use href="#ar" fill="none" transform="translate(390.6 275.5) rotate(22.5)"/>
<use href="#ar" fill="#ffff00" stroke="none" shape-rendering="crispEdges" transform="translate(399.2 247.1) rotate(22.5)"/>
<use href="#ar" fill="none" transform="translate(399.2 247.1) rotate(22.5)"/>
<use href="#ar" fill="#ffff00" stroke="none" shape-rendering="crispEdges" transform="translate(407.7 247.1) rotate(22.5)"/>
<use href="#ar" fill="none" transform="translate(407.7 247.1) rotate(22.5)"/>
<use href="#ar" fill="#ffff00" stroke="none" shape-rendering="crispEdges" transform="translate(416.2 247.1) rotate(0)"/>
<use href="#ar" fill="none" transform="translate(416.2 247.1) rotate(0)"/>
<use href="#ar" fill="#ffff00" stroke="none" shape-rendering="crispEdges" transform="translate(424.8 256.5) rotate(0)"/>
<use href="#ar" fill="none" transform="translate(424.8 256.5) rotate(0)"/>
<use href="#ar" fill="#ffff00" stroke="none" shape-rendering="crispEdges" transform="translate(433.3 256.5) rotate(-22.5)"/>
<use href="#ar" fill="none" transform="translate(433.3 256.5) rotate(-22.5)"/>
<use href="#ar" fill="#ffff00" stroke="none" shape-rendering="crispEdges" transform="translate(441.8 275.5) rotate(-22.5)"/>
<use href="#ar" fill="none" transform="translate(441.8 275.5) rotate(-22.5)"/>
<use href="#ar" fill="#ffff00" stroke="none" shape-rendering="crispEdges" transform="translate(450.4 294.4) rotate(-22.5)"/>
<use href="#ar" fill="none" transform="translate(450.4 294.4) rotate(-22.5)"/>
<use href="#ar" fill="#ff0000" stroke="none" shape-rendering="crispEdges" transform="translate(458.9 313.3) rotate(-22.5)"/>
<use href="#ar" fill="none" transform="translate(458.9 313.3) rotate(-22.5)"/>
<use href="#ar" fill="#ff0000" stroke="none" shape-rendering="crispEdges" transform="translate(467.4 322.8) rotate(-22.5)"/>
<use href="#ar" fill="none" transform="translate(467.4 322.8) rotate(-22.5)"/>
<use href="#ar" fill="#ff0000" stroke="none" shape-rendering="crispEdges" transform="translate(476.0 332.3) rotate(-22.5)"/>
<use href="#ar" fill="none" transform="translate(476.0 332.3) rotate(-22.5)"/>
<use href="#ar" fill="#ff0000" stroke="none" shape-rendering="crispEdges" transform="translate(484.5 341.7) rotate(-22.5)"/>
<use href="#ar" fill="none" transform="translate(484.5 341.7) rotate(-22.5)"/>
<use href="#ar" fill="#ff0000" stroke="none" shape-rendering="crispEdges" transform="translate(493.1 341.7) rotate(-22.5)"/>
<use href="#ar" fill="none" transform="translate(493.1 341.7) rotate(-22.5)"/>
<use href="#ar" fill="#ff0000" stroke="none" shape-rendering="crispEdges" transform="translate(501.6 341.7) rotate(-22.5)"/>
<use href="#ar" fill="none" transform="translate(501.6 341.7) rotate(-22.5)"/>
<use href="#ar" fill="#ff0000" stroke="none" shape-rendering="crispEdges" transform="translate(510.1 341.7) rotate(-22.5)"/>
<use href="#ar" fill="none" transform="translate(510.1 341.7) rotate(-22.5)"/>
<use href="#ar" fill="#ff0000" stroke="none" shape-rendering="crispEdges" transform="translate(518.7 332.3) rotate(-22.5)"/>
<use href="#ar" fill="none" transform="translate(518.7 332.3) rotate(-22.5)"/>
<use href="#ar" fill="#ff0000" stroke="none" shape-rendering="crispEdges" transform="translate(527.2 322.8) rotate(-22.5)"/>
<use href="#ar" fill="none" transform="translate(527.2 322.8) rotate(-22.5)"/>
<use href="#ar" fill="#ff0000" stroke="none" shape-rendering="crispEdges" transform="translate(535.7 313.3) rotate(-22.5)"/>
<use href="#ar" fill="none" transform="translate(535.7 313.3) rotate(-22.5)"/>
<use href="#ar" fill="#ff0000" stroke="none" shape-rendering="crispEdges" transform="translate(544.3 322.8) rotate(-22.5)"/>
<use href="#ar" fill="none" transform="translate(544.3 322.8) rotate(-22.5)"/>
<use href="#ar" fill="#ff0000" stroke="none" shape-rendering="crispEdges" transform="translate(552.8 313.3) rotate(0)"/>
<use href="#ar" fill="none" transform="translate(552.8 313.3) rotate(0)"/>
<use href="#ar" fill="#ff0000" stroke="none" shape-rendering="crispEdges" transform="translate(561.3 322.8) rotate(0)"/>
<use href="#ar" fill="none" transform="translate(561.3 322.8) rotate(0)"/>
<use href="#ar" fill="#ff0000" stroke="none" shape-rendering="crispEdges" transform="translate(569.9 313.3) rotate(0)"/>
<use href="#ar" fill="none" transform="translate(569.9 313.3) rotate(0)"/>
<use href="#ar" fill="#ff0000" stroke="none" shape-rendering="crispEdges" transform="translate(578.4 322.8) rotate(0)"/>
<use href="#ar" fill="none" transform="translate(578.4 322.8) rotate(0)"/>
<use href="#ar" fill="#ff0000" stroke="none" shape-rendering="crispEdges" transform="translate(586.9 322.8) rotate(0)"/>
<use href="#ar" fill="none" transform="translate(586.9 322.8) rotate(0)"/>
<use href="#ar" fill="#ff0000" stroke="none" shape-rendering="crispEdges" transform="translate(595.5 341.7) rotate(0)"/>
<use href="#ar" fill="none" transform="translate(595.5 341.7) rotate(0)"/>
<use href="#ar" fill="#ff0000" stroke="none" shape-rendering="crispEdges" transform="translate(604.0 351.2) rotate(0)"/>
<use href="#ar" fill="none" transform="translate(604.0 351.2) rotate(0)"/>
<use href="#ar" fill="#ff0000" stroke="none" shape-rendering="crispEdges" transform="translate(612.6 360.7) rotate(0)"/>
<use href="#ar" fill="none" transform="translate(612.6 360.7) rotate(0)"/>
<use href="#ar" fill="#ff0000" stroke="none" shape-rendering="crispEdges" transform="translate(621.1 360.7) rotate(-22.5)"/>
<use href="#ar" fill="none" transform="translate(621.1 360.7) rotate(-22.5)"/>
<use href="#ar" fill="#ff0000" stroke="none" shape-rendering="crispEdges" transform="translate(629.6 360.7) rotate(-22.5)"/>
<use href="#ar" fill="none" transform="translate(629.6 360.7) rotate(-22.5)"/>
<use href="#ar" fill="#ff0000" stroke="none" shape-rendering="crispEdges" transform="translate(638.2 360.7) rotate(-22.5)"/>
<use href="#ar" fill="none" transform="translate(638.2 360.7) rotate(-22.5)"/>
<use href="#ar" fill="#ff0000" stroke="none" shape-rendering="crispEdges" transform="translate(646.7 370.1) rotate(0)"/>
<use href="#ar" fill="none" transform="translate(646.7 370.1) rotate(0)"/>
<use href="#ar" fill="#ff0000" stroke="none" shape-rendering="crispEdges" transform="translate(655.2 379.6) rotate(45)"/>
<use href="#ar" fill="none" transform="translate(655.2 379.6) rotate(45)"/>
<use href="#ar" fill="#ff0000" stroke="none" shape-rendering="crispEdges" transform="translate(663.8 370.1) rotate(50)"/>
<use href="#ar" fill="none" transform="translate(663.8 370.1) rotate(50)"/>
<use href="#ar" fill="#ff0000" stroke="none" shape-rendering="crispEdges" transform="translate(672.3 370.1) rotate(67.5)"/>
<use href="#ar" fill="none" transform="translate(672.3 370.1) rotate(67.5)"/>
<use href="#ar" fill="#ff0000" stroke="none" shape-rendering="crispEdges" transform="translate(680.8 360.7) rotate(70)"/>
<use href="#ar" fill="none" transform="translate(680.8 360.7) rotate(70)"/>
<use href="#ar" fill="#ff0000" stroke="none" shape-rendering="crispEdges" transform="translate(689.4 351.2) rotate(54)"/>
<use href="#ar" fill="none" transform="translate(689.4 351.2) rotate(54)"/>
<use href="#ar" fill="#ff0000" stroke="none" shape-rendering="crispEdges" transform="translate(697.9 351.2) rotate(0)"/>
<use href="#ar" fill="none" transform="translate(697.9 351.2) rotate(0)"/>
<use href="#ar" fill="#ff0000" stroke="none" shape-rendering="crispEdges" transform="translate(706.4 341.7) rotate(-67.5)"/>
<use href="#ar" fill="none" transform="translate(706.4 341.7) rotate(-67.5)"/>
<use href="#ar" fill="#ff0000" stroke="none" shape-rendering="crispEdges" transform="translate(715.0 332.3) rotate(-90)"/>
<use href="#ar" fill="none" transform="translate(715.0 332.3) rotate(-90)"/>
<use href="#ar" fill="#ff0000" stroke="none" shape-rendering="crispEdges" transform="translate(723.5 341.7) rotate(-90)"/>
<use href="#ar" fill="none" transform="translate(723.5 341.7) rotate(-90)"/>
<use href="#ar" fill="#ff0000" stroke="none" shape-rendering="crispEdges" transform="translate(732.1 351.2) rotate(-90)"/>
<use href="#ar" fill="none" transform="translate(732.1 351.2) rotate(-90)"/>
<use href="#ar" fill="#ff0000" stroke="none" shape-rendering="crispEdges" transform="translate(740.6 360.7) rotate(-67.5)"/>
<use href="#ar" fill="none" transform="translate(740.6 360.7) rotate(-67.5)"/>
<use href="#ar" fill="#ff0000" stroke="none" shape-rendering="crispEdges" transform="translate(749.1 360.7) rotate(-40)"/>
<use href="#ar" fill="none" transform="translate(749.1 360.7) rotate(-40)"/>
<use href="#ar" fill="#ff0000" stroke="none" shape-rendering="crispEdges" transform="translate(757.7 360.7) rotate(-22.5)"/>
<use href="#ar" fill="none" transform="translate(757.7 360.7) rotate(-22.5)"/>
<use href="#ar" fill="#ff0000" stroke="none" shape-rendering="crispEdges" transform="translate(766.2 370.1) rotate(-22.5)"/>
<use href="#ar" fill="none" transform="translate(766.2 370.1) rotate(-22.5)"/>
<use href="#ar" fill="#ff0000" stroke="none" shape-rendering="crispEdges" transform="translate(774.7 360.7) rotate(-22.5)"/>
<use href="#ar" fill="none" transform="translate(774.7 360.7) rotate(-22.5)"/>
<use href="#ar" fill="#ff0000" stroke="none" shape-rendering="crispEdges" transform="translate(783.3 370.1) rotate(-22.5)"/>
<use href="#ar" fill="none" transform="translate(783.3 370.1) rotate(-22.5)"/>
<use href="#ar" fill="#ff0000" stroke="none" shape-rendering="crispEdges" transform="translate(791.8 370.1) rotate(0)"/>
<use href="#ar" fill="none" transform="translate(791.8 370.1) rotate(0)"/>
<use href="#ar" fill="#ff0000" stroke="none" shape-rendering="crispEdges" transform="translate(800.3 360.7) rotate(0)"/>
<use href="#ar" fill="none" transform="translate(800.3 360.7) rotate(0)"/>
<use href="#ar" fill="#ff0000" stroke="none" shape-rendering="crispEdges" transform="translate(808.9 351.2) rotate(0)"/>
<use href="#ar" fill="none" transform="translate(808.9 351.2) rotate(0)"/>
<use href="#ar" fill="#ff0000" stroke="none" shape-rendering="crispEdges" transform="translate(817.4 351.2) rotate(0)"/>
<use href="#ar" fill="none" transform="translate(817.4 351.2) rotate(0)"/>
<use href="#ar" fill="#ff0000" stroke="none" shape-rendering="crispEdges" transform="translate(825.9 341.7) rotate(-45)"/>
<use href="#ar" fill="none" transform="translate(825.9 341.7) rotate(-45)"/>
<use href="#ar" fill="#ff0000" stroke="none" shape-rendering="crispEdges" transform="translate(834.5 341.7) rotate(-67.5)"/>
<use href="#ar" fill="none" transform="translate(834.5 341.7) rotate(-67.5)"/>
<use href="#ar" fill="#ff0000" stroke="none" shape-rendering="crispEdges" transform="translate(843.0 332.3) rotate(-67.5)"/>
<use href="#ar" fill="none" transform="translate(843.0 332.3) rotate(-67.5)"/>
<use href="#ar" fill="#ff0000" stroke="none" shape-rendering="crispEdges" transform="translate(851.6 332.3) rotate(-90)"/>
<use href="#ar" fill="none" transform="translate(851.6 332.3) rotate(-90)"/>
<use href="#ar" fill="#ff0000" stroke="none" shape-rendering="crispEdges" transform="translate(860.1 332.3) rotate(-90)"/>
<use href="#ar" fill="none" transform="translate(860.1 332.3) rotate(-90)"/>
<use href="#ar" fill="#ff0000" stroke="none" shape-rendering="crispEdges" transform="translate(868.6 341.7) rotate(-90)"/>
<use href="#ar" fill="none" transform="translate(868.6 341.7) rotate(-90)"/>
<use href="#ar" fill="#ff0000" stroke="none" shape-rendering="crispEdges" transform="translate(877.2 351.2) rotate(-90)"/>
<use href="#ar" fill="none" transform="translate(877.2 351.2) rotate(-90)"/>
<use href="#ar" fill="#ff0000" stroke="none" shape-rendering="crispEdges" transform="translate(885.7 360.7) rotate(-90)"/>
<use href="#ar" fill="none" transform="translate(885.7 360.7) rotate(-90)"/>
<use href="#ar" fill="#ff0000" stroke="none" shape-rendering="crispEdges" transform="translate(894.2 360.7) rotate(-90)"/>
<use href="#ar" fill="none" transform="translate(894.2 360.7) rotate(-90)"/>
<use href="#ar" fill="#ff0000" stroke="none" shape-rendering="crispEdges" transform="translate(902.8 360.7) rotate(-90)"/>
<use href="#ar" fill="none" transform="translate(902.8 360.7) rotate(-90)"/>
<use href="#ar" fill="#ff0000" stroke="none" shape-rendering="crispEdges" transform="translate(911.3 360.7) rotate(-90)"/>
<use href="#ar" fill="none" transform="translate(911.3 360.7) rotate(-90)"/>
<use href="#ar" fill="#ff0000" stroke="none" shape-rendering="crispEdges" transform="translate(919.8 360.7) rotate(-90)"/>
<use href="#ar" fill="none" transform="translate(919.8 360.7) rotate(-90)"/>
<use href="#ar" fill="#ff0000" stroke="none" shape-rendering="crispEdges" transform="translate(928.4 360.7) rotate(-90)"/>
<use href="#ar" fill="none" transform="translate(928.4 360.7) rotate(-90)"/>
<use href="#ar" fill="#ff0000" stroke="none" shape-rendering="crispEdges" transform="translate(936.9 360.7) rotate(-90)"/>
<use href="#ar" fill="none" transform="translate(936.9 360.7) rotate(-90)"/>
<use href="#ar" fill="#ff0000" stroke="none" shape-rendering="crispEdges" transform="translate(945.4 351.2) rotate(-90)"/>
<use href="#ar" fill="none" transform="translate(945.4 351.2) rotate(-90)"/>
<use href="#ar" fill="#ff0000" stroke="none" shape-rendering="crispEdges" transform="translate(954.0 351.2) rotate(-112.5)"/>
<use href="#ar" fill="none" transform="translate(954.0 351.2) rotate(-112.5)"/>
<use href="#ar" fill="#ff0000" stroke="none" shape-rendering="crispEdges" transform="translate(962.5 341.7) rotate(-112.5)"/>
<use href="#ar" fill="none" transform="translate(962.5 341.7) rotate(-112.5)"/>
<use href="#ar" fill="#ff0000" stroke="none" shape-rendering="crispEdges" transform="translate(971.1 341.7) rotate(-112.5)"/>
<use href="#ar" fill="none" transform="translate(971.1 341.7) rotate(-112.5)"/>
<use href="#ar" fill="#ff0000" stroke="none" shape-rendering="crispEdges" transform="translate(979.6 332.3) rotate(-112.5)"/>
<use href="#ar" fill="none" transform="translate(979.6 332.3) rotate(-112.5)"/>
<use href="#ar" fill="#ff0000" stroke="none" shape-rendering="crispEdges" transform="translate(988.1 332.3) rotate(-112.5)"/>
<use href="#ar" fill="none" transform="translate(988.1 332.3) rotate(-112.5)"/>
<use href="#ar" fill="#ff0000" stroke="none" shape-rendering="crispEdges" transform="translate(996.7 332.3) rotate(-112.5)"/>
<use href="#ar" fill="none" transform="translate(996.7 332.3) rotate(-112.5)"/>
<use href="#ar" fill="#ff0000" stroke="none" shape-rendering="crispEdges" transform="translate(1005.2 351.2) rotate(-112.5)"/>
<use href="#ar" fill="none" transform="translate(1005.2 351.2) rotate(-112.5)"/>
<use href="#ar" fill="#ff0000" stroke="none" shape-rendering="crispEdges" transform="translate(1013.7 351.2) rotate(-112.5)"/>
<use href="#ar" fill="none" transform="translate(1013.7 351.2) rotate(-112.5)"/>
</g>
<g font-size="16" fill="#000">
<text x="51.5" y="413.3" text-anchor="end">0</text>
<text x="51.5" y="366.3" text-anchor="end">1</text>
<text x="51.5" y="318.3" text-anchor="end">2</text>
<text x="51.5" y="271.3" text-anchor="end">3</text>
<text x="51.5" y="224.3" text-anchor="end">4</text>
<text x="51.5" y="176.3" text-anchor="end">5</text>
<text x="51.5" y="129.3" text-anchor="end">6</text>
<text x="1028.5" y="413.3">0</text>
<text x="1028.5" y="366.3">5</text>
<text x="1028.5" y="318.3">10</text>
<text x="1028.5" y="271.3">15</text>
<text x="1028.5" y="224.3">20</text>
<text x="1028.5" y="176.3">25</text>
<text x="1028.5" y="129.3">30</text>
</g>
<text font-size="23.1" transform="translate(20.6 266.9) rotate(-90)" text-anchor="middle">Wave Height - Metres</text>
<text font-size="22.9" transform="translate(1059.2 265) rotate(90)" text-anchor="middle">Wind Speed - Knots</text>
<text x="535" y="29.8" font-size="27.6" text-anchor="middle" textLength="484" lengthAdjust="spacingAndGlyphs">7 day wind &amp; wave forecast for Uxbridge</text>
<text x="128.6" y="434.8" font-size="16" text-anchor="middle" textLength="68.2" lengthAdjust="spacing">Thursday</text>
<text x="129.5" y="458.6" font-size="17" fill="#787878" text-anchor="middle" textLength="27.6" lengthAdjust="spacingAndGlyphs">8th</text>
<text x="129.0" y="59.2" font-size="17" text-anchor="middle" textLength="52.8" lengthAdjust="spacingAndGlyphs">13-25°</text>
<use href="#ic_sc" x="98.3" y="62"/>
<text x="265.0" y="434.8" font-size="16" text-anchor="middle" textLength="45.6" lengthAdjust="spacing">Friday</text>
<text x="266.1" y="458.6" font-size="17" fill="#787878" text-anchor="middle" textLength="27.6" lengthAdjust="spacingAndGlyphs">9th</text>
<text x="265.6" y="59.2" font-size="17" text-anchor="middle" textLength="52.8" lengthAdjust="spacingAndGlyphs">10-25°</text>
<use href="#ic_sc5" x="234.9" y="62"/>
<text x="404.2" y="434.8" font-size="16" text-anchor="middle" textLength="69.7" lengthAdjust="spacing" font-weight="bold">Saturday</text>
<text x="403.2" y="458.6" font-size="17" fill="#787878" text-anchor="middle" textLength="37.8" lengthAdjust="spacingAndGlyphs">10th</text>
<text x="402.1" y="59.2" font-size="17" text-anchor="middle" textLength="52.8" lengthAdjust="spacingAndGlyphs">12-18°</text>
<use href="#ic_sc5" x="371.4" y="62"/>
<text x="540.1" y="434.8" font-size="16" text-anchor="middle" textLength="57.1" lengthAdjust="spacing" font-weight="bold">Sunday</text>
<text x="539.8" y="458.6" font-size="17" fill="#787878" text-anchor="middle" textLength="37.8" lengthAdjust="spacingAndGlyphs">11th</text>
<text x="538.7" y="59.2" font-size="17" text-anchor="middle" textLength="43.7" lengthAdjust="spacingAndGlyphs">6-18°</text>
<use href="#ic_cc" x="508.0" y="62"/>
<text x="674.1" y="434.8" font-size="16" text-anchor="middle" textLength="57.8" lengthAdjust="spacing">Monday</text>
<text x="676.4" y="458.6" font-size="17" fill="#787878" text-anchor="middle" textLength="37.8" lengthAdjust="spacingAndGlyphs">12th</text>
<text x="675.3" y="59.2" font-size="17" text-anchor="middle" textLength="43.7" lengthAdjust="spacingAndGlyphs">6-24°</text>
<use href="#ic_sc" x="644.6" y="62"/>
<text x="811.7" y="434.8" font-size="16" text-anchor="middle" textLength="63.3" lengthAdjust="spacing">Tuesday</text>
<text x="812.9" y="458.6" font-size="17" fill="#787878" text-anchor="middle" textLength="37.8" lengthAdjust="spacingAndGlyphs">13th</text>
<text x="811.8" y="59.2" font-size="17" text-anchor="middle" textLength="43.7" lengthAdjust="spacingAndGlyphs">9-20°</text>
<use href="#ic_sc5" x="781.1" y="62"/>
<text x="946.7" y="434.8" font-size="16" text-anchor="middle" textLength="85.9" lengthAdjust="spacing">Wednesday</text>
<text x="949.5" y="458.6" font-size="17" fill="#787878" text-anchor="middle" textLength="37.8" lengthAdjust="spacingAndGlyphs">14th</text>
<text x="948.4" y="59.2" font-size="17" text-anchor="middle" textLength="43.7" lengthAdjust="spacingAndGlyphs">8-18°</text>
<use href="#ic_sc2" x="917.7" y="62"/>
<text x="1011.2" y="401.2" font-size="11" fill="#aaaaaa" text-anchor="end" textLength="117.7" lengthAdjust="spacing">www.seabreeze.com.au</text>
</svg></body></html>
